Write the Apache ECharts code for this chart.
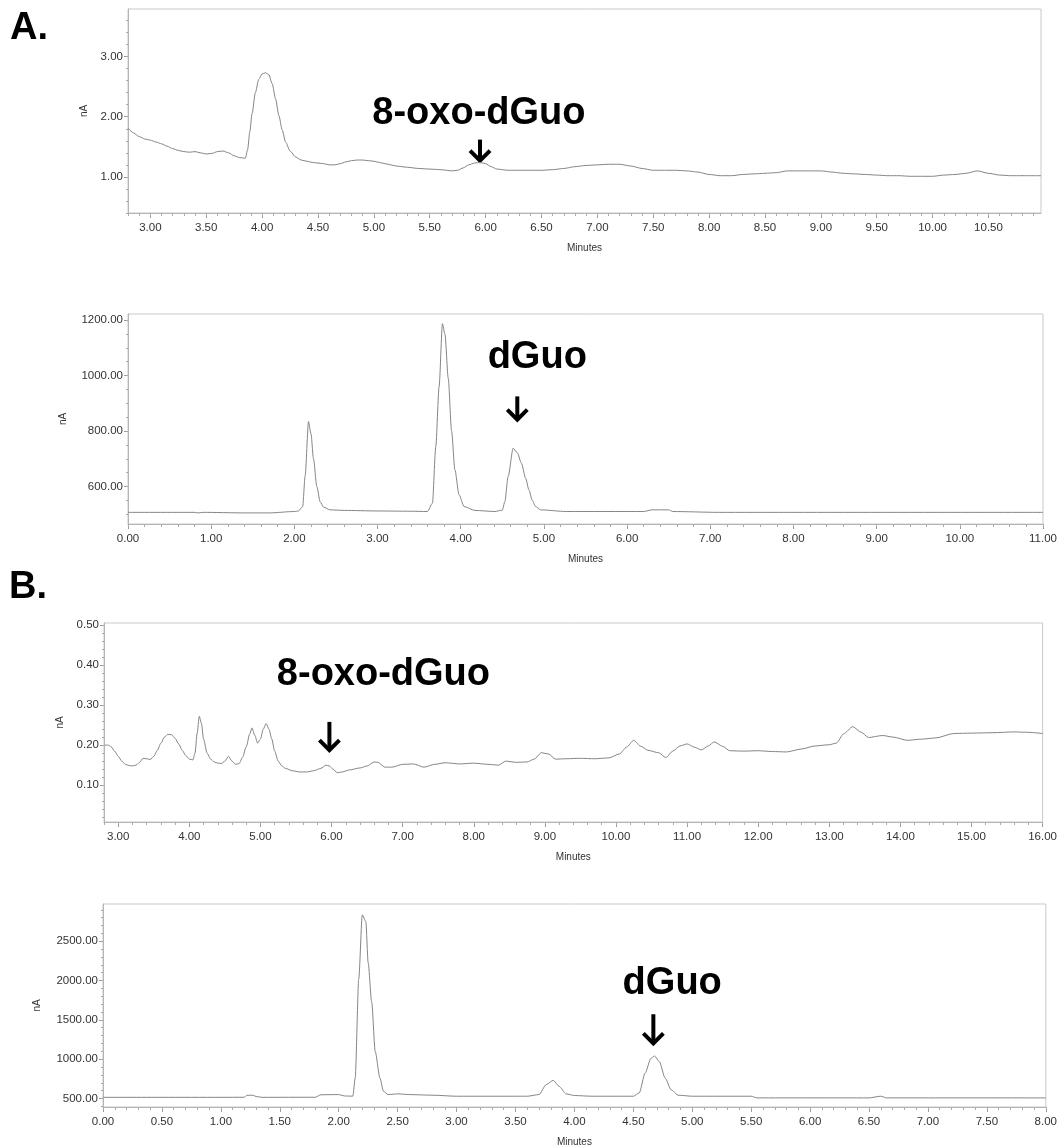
<!DOCTYPE html>
<html><head><meta charset="utf-8">
<script src="https://cdn.jsdelivr.net/npm/echarts@6/dist/echarts.min.js"></script>
<style>html,body{margin:0;padding:0;background:#fff}#c{width:1060px;height:1148px}</style>
</head><body><div id="c"></div><script>
// ---------- DATA: chromatogram traces [minutes, nA] ----------
const A1_TRACE = [[2.80,1.81],[2.85,1.73],[2.90,1.67],[2.95,1.63],[3.00,1.61],[3.05,1.58],[3.10,1.55],[3.15,1.51],[3.20,1.47],[3.25,1.44],[3.30,1.42],[3.35,1.41],[3.40,1.42],[3.45,1.40],[3.50,1.38],[3.55,1.39],[3.60,1.42],[3.65,1.43],[3.70,1.40],[3.75,1.35],[3.80,1.32],[3.85,1.31],[3.87,1.45],[3.89,1.75],[3.91,2.05],[3.94,2.40],[3.97,2.62],[4.00,2.71],[4.03,2.73],[4.06,2.70],[4.09,2.55],[4.12,2.30],[4.15,2.02],[4.18,1.78],[4.21,1.58],[4.25,1.43],[4.30,1.33],[4.35,1.28],[4.40,1.26],[4.45,1.24],[4.50,1.23],[4.55,1.22],[4.60,1.20],[4.65,1.20],[4.70,1.22],[4.75,1.25],[4.80,1.27],[4.85,1.28],[4.90,1.28],[4.95,1.27],[5.00,1.26],[5.05,1.24],[5.10,1.22],[5.15,1.20],[5.20,1.18],[5.30,1.16],[5.40,1.14],[5.50,1.13],[5.60,1.12],[5.70,1.10],[5.75,1.11],[5.80,1.15],[5.85,1.20],[5.90,1.23],[5.95,1.24],[6.00,1.22],[6.05,1.17],[6.10,1.13],[6.20,1.11],[6.30,1.11],[6.40,1.11],[6.50,1.11],[6.60,1.12],[6.70,1.14],[6.80,1.17],[6.90,1.19],[7.00,1.20],[7.10,1.21],[7.20,1.21],[7.30,1.18],[7.40,1.14],[7.50,1.11],[7.60,1.11],[7.70,1.11],[7.80,1.10],[7.90,1.08],[8.00,1.04],[8.10,1.02],[8.20,1.02],[8.30,1.04],[8.40,1.05],[8.50,1.06],[8.60,1.07],[8.70,1.10],[8.80,1.10],[8.90,1.10],[9.00,1.10],[9.10,1.08],[9.20,1.06],[9.30,1.05],[9.40,1.04],[9.50,1.03],[9.60,1.02],[9.70,1.02],[9.80,1.01],[9.90,1.01],[10.00,1.01],[10.10,1.03],[10.20,1.04],[10.30,1.06],[10.40,1.10],[10.50,1.06],[10.60,1.03],[10.70,1.02],[10.80,1.02],[10.90,1.02],[10.97,1.02]];

const A2_TRACE = [[0,507],[0.80,507],[0.85,505],[0.90,507],[1.40,505],[1.70,505],[2.00,510],[2.05,512],[2.10,528],[2.13,640],[2.17,834],[2.20,790],[2.23,700],[2.27,600],[2.31,545],[2.35,526],[2.43,516],[2.60,514],[3.00,512],[3.40,511],[3.60,510],[3.66,540],[3.70,744],[3.74,960],[3.78,1187],[3.81,1150],[3.85,990],[3.89,800],[3.93,660],[3.98,570],[4.04,528],[4.17,514],[4.41,510],[4.50,515],[4.53,545],[4.57,636],[4.63,738],[4.68,722],[4.73,684],[4.78,630],[4.82,588],[4.86,550],[4.90,528],[4.96,516],[5.27,510],[6.20,510],[6.30,516],[6.50,516],[6.55,510],[7.10,507],[11.00,507]];

const B1_TRACE = [[2.81,0.200],[2.86,0.200],[2.90,0.196],[2.95,0.185],[3.00,0.172],[3.05,0.160],[3.10,0.152],[3.15,0.149],[3.20,0.148],[3.25,0.150],[3.30,0.157],[3.35,0.167],[3.40,0.166],[3.45,0.164],[3.50,0.172],[3.55,0.187],[3.60,0.205],[3.65,0.220],[3.70,0.227],[3.75,0.226],[3.80,0.217],[3.85,0.203],[3.90,0.187],[3.95,0.174],[4.00,0.165],[4.05,0.163],[4.08,0.180],[4.11,0.230],[4.14,0.272],[4.17,0.255],[4.20,0.215],[4.25,0.180],[4.30,0.165],[4.35,0.158],[4.40,0.155],[4.45,0.154],[4.50,0.160],[4.55,0.172],[4.60,0.160],[4.65,0.152],[4.70,0.154],[4.75,0.170],[4.80,0.196],[4.85,0.228],[4.88,0.243],[4.92,0.225],[4.96,0.205],[5.00,0.215],[5.04,0.240],[5.08,0.254],[5.12,0.240],[5.16,0.215],[5.20,0.185],[5.25,0.160],[5.30,0.148],[5.35,0.142],[5.45,0.136],[5.55,0.133],[5.65,0.133],[5.75,0.136],[5.85,0.142],[5.92,0.150],[5.97,0.148],[6.02,0.140],[6.08,0.131],[6.15,0.133],[6.25,0.138],[6.40,0.143],[6.50,0.148],[6.60,0.158],[6.65,0.157],[6.75,0.145],[6.85,0.145],[7.00,0.152],[7.15,0.153],[7.30,0.145],[7.45,0.152],[7.60,0.156],[7.80,0.153],[8.00,0.155],[8.20,0.152],[8.35,0.150],[8.45,0.160],[8.60,0.157],[8.75,0.158],[8.85,0.165],[8.95,0.181],[9.05,0.178],[9.15,0.165],[9.30,0.166],[9.50,0.167],[9.70,0.166],[9.90,0.168],[10.05,0.178],[10.15,0.195],[10.25,0.212],[10.35,0.197],[10.45,0.187],[10.60,0.181],[10.70,0.169],[10.80,0.185],[10.90,0.198],[11.00,0.203],[11.10,0.195],[11.20,0.188],[11.30,0.198],[11.38,0.208],[11.50,0.197],[11.60,0.186],[11.80,0.185],[12.00,0.186],[12.20,0.184],[12.40,0.183],[12.60,0.190],[12.80,0.198],[13.00,0.201],[13.10,0.205],[13.20,0.228],[13.33,0.246],[13.45,0.232],[13.55,0.219],[13.75,0.224],[13.90,0.220],[14.10,0.212],[14.30,0.215],[14.50,0.218],[14.75,0.229],[15.00,0.230],[15.30,0.231],[15.60,0.233],[15.80,0.232],[16.00,0.229]];

const B2_TRACE = [[0,515],[0.50,515],[1.00,515],[1.20,516],[1.22,540],[1.27,542],[1.30,525],[1.35,515],[1.80,516],[1.85,548],[2.00,550],[2.05,532],[2.12,530],[2.14,760],[2.17,2018],[2.20,2836],[2.23,2752],[2.25,2228],[2.28,1724],[2.31,1095],[2.35,760],[2.38,592],[2.42,550],[2.50,559],[2.60,550],[2.80,542],[3.00,529],[3.50,529],[3.60,529],[3.70,550],[3.76,676],[3.82,731],[3.87,655],[3.93,559],[4.00,538],[4.15,529],[4.50,529],[4.55,571],[4.60,823],[4.65,1012],[4.68,1041],[4.72,970],[4.77,760],[4.82,613],[4.88,542],[5.00,529],[5.50,529],[5.55,508],[6.50,508],[6.60,529],[6.65,508],[8.00,508]];

// ---------- tick labels ----------
const A1_X_TICKS = [3.0,3.5,4.0,4.5,5.0,5.5,6.0,6.5,7.0,7.5,8.0,8.5,9.0,9.5,10.0,10.5];
const A1_Y_TICKS = [1,2,3];
const A2_X_TICKS = [0,1,2,3,4,5,6,7,8,9,10,11];
const A2_Y_TICKS = [600,800,1000,1200];
const B1_X_TICKS = [3,4,5,6,7,8,9,10,11,12,13,14,15,16];
const B1_Y_TICKS = [0.1,0.2,0.3,0.4,0.5];
const B2_X_TICKS = [0,0.5,1,1.5,2,2.5,3,3.5,4,4.5,5,5.5,6,6.5,7,7.5,8];
const B2_Y_TICKS = [500,1000,1500,2000,2500];

// ---------- annotations (data coordinates) ----------
const ANNOTATIONS = [
  {panel:0, text:'8-oxo-dGuo', at:[5.94,2.045], arrowX:5.95, arrowTop:1.62, arrowTip:1.27},
  {panel:1, text:'dGuo', at:[4.92,1066], arrowX:4.68, arrowTop:925, arrowTip:841},
  {panel:2, text:'8-oxo-dGuo', at:[6.73,0.377], arrowX:5.97, arrowTop:0.258, arrowTip:0.1875},
  {panel:3, text:'dGuo', at:[4.83,1966], arrowX:4.67, arrowTop:1572, arrowTip:1201}
];

// ---------- layout ----------
const PANELS = [
  {grid:{left:128, top:9, width:913, height:204}, x:[2.80,10.97], y:[0.40,3.79], xt:A1_X_TICKS, yt:A1_Y_TICKS, xm:0.1, ym:0.2, ygap:39, data:A1_TRACE},
  {grid:{left:128, top:314, width:915, height:210}, x:[0,11], y:[465,1222], xt:A2_X_TICKS, yt:A2_Y_TICKS, xm:0.2, ym:50, ygap:60, data:A2_TRACE},
  {grid:{left:104, top:623, width:939, height:199}, x:[2.80,16.0], y:[0.008,0.505], xt:B1_X_TICKS, yt:B1_Y_TICKS, xm:0.2, ym:0.02, ygap:39, data:B1_TRACE},
  {grid:{left:103, top:904, width:943, height:205}, x:[0,8], y:[392,2974], xt:B2_X_TICKS, yt:B2_Y_TICKS, xm:0.1, ym:100, ygap:61, data:B2_TRACE}
];

function steps(a, b, s) {
  const out = [];
  const start = Math.ceil(a / s - 1e-9);
  for (let k = start; k * s <= b + 1e-9; k++) out.push(+(k * s).toFixed(4));
  return out;
}

const FONT = '"Liberation Sans", Arial, sans-serif';
const grids = [], xAxes = [], yAxes = [], series = [];
PANELS.forEach((p, i) => {
  grids.push(Object.assign({show:true, borderColor:'#c9c9c9', borderWidth:1, backgroundColor:'transparent', containLabel:false}, p.grid));
  xAxes.push({
    type:'value', gridIndex:i, position:'bottom', min:p.x[0], max:p.x[1],
    name:'Minutes', nameLocation:'middle', nameGap:30,
    nameTextStyle:{fontFamily:FONT, fontSize:10, color:'#333'},
    axisLine:{show:true, lineStyle:{color:'#b5b5b5', width:1}},
    axisTick:{show:true, customValues:p.xt, length:5, lineStyle:{color:'#999'}},
    axisLabel:{customValues:p.xt, formatter:v=>v.toFixed(2), fontFamily:FONT, fontSize:11.5, color:'#333', margin:9, showMinLabel:true, showMaxLabel:true},
    splitLine:{show:false}
  });
  xAxes.push({
    type:'value', gridIndex:i, position:'bottom', min:p.x[0], max:p.x[1],
    axisLine:{show:false}, axisLabel:{show:false}, splitLine:{show:false},
    axisTick:{show:true, customValues:steps(p.x[0], p.x[1], p.xm), length:3, lineStyle:{color:'#aaa'}}
  });
  yAxes.push({
    type:'value', gridIndex:i, position:'left', min:p.y[0], max:p.y[1],
    name:'nA', nameLocation:'middle', nameGap:p.ygap, nameRotate:90,
    nameTextStyle:{fontFamily:FONT, fontSize:10, color:'#333'},
    axisLine:{show:true, lineStyle:{color:'#b5b5b5', width:1}},
    axisTick:{show:true, customValues:p.yt, length:4, lineStyle:{color:'#999'}},
    axisLabel:{customValues:p.yt, formatter:v=>v.toFixed(2), fontFamily:FONT, fontSize:11.5, color:'#333', margin:5},
    splitLine:{show:false}
  });
  yAxes.push({
    type:'value', gridIndex:i, position:'left', min:p.y[0], max:p.y[1],
    axisLine:{show:false}, axisLabel:{show:false}, splitLine:{show:false},
    axisTick:{show:true, customValues:steps(p.y[0], p.y[1], p.ym), length:2, lineStyle:{color:'#aaa'}}
  });
  series.push({
    type:'line', xAxisIndex:2*i, yAxisIndex:2*i, data:p.data,
    showSymbol:false, symbol:'none', smooth:0.25, smoothMonotone:'x',
    lineStyle:{color:'#858585', width:1}, silent:true
  });
});

const chart = echarts.init(document.getElementById('c'), null, {renderer:'canvas'});
chart.setOption({
  animation:false, backgroundColor:'#fff',
  grid:grids, xAxis:xAxes, yAxis:yAxes, series:series
});

const BIG = 'bold 38px ' + FONT;
const graphics = [
  {type:'text', left:10, top:10, style:{text:'A.', font:BIG, fill:'#000'}},
  {type:'text', left:9, top:569, style:{text:'B.', font:BIG, fill:'#000'}}
];
ANNOTATIONS.forEach(a => {
  const t = chart.convertToPixel({seriesIndex:a.panel}, a.at);
  const top = chart.convertToPixel({seriesIndex:a.panel}, [a.arrowX, a.arrowTop]);
  const tip = chart.convertToPixel({seriesIndex:a.panel}, [a.arrowX, a.arrowTip]);
  graphics.push({type:'text', x:t[0], y:t[1], style:{text:a.text, font:BIG, fill:'#000', textAlign:'center', textVerticalAlign:'middle', align:'center', verticalAlign:'middle'}});
  graphics.push({type:'line', shape:{x1:top[0], y1:top[1], x2:tip[0], y2:tip[1]-2}, style:{stroke:'#000', lineWidth:4}});
  graphics.push({type:'polyline', shape:{points:[[tip[0]-10, tip[1]-10],[tip[0], tip[1]],[tip[0]+10, tip[1]-10]]}, style:{stroke:'#000', lineWidth:4, fill:null, lineJoin:'miter'}});
});
chart.setOption({graphic:graphics});
</script></body></html>
